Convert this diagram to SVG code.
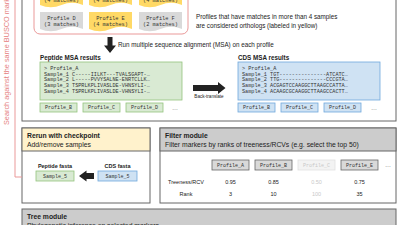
<svg xmlns="http://www.w3.org/2000/svg" width="400" height="225" viewBox="0 0 400 225">
<style>
.sans{font-family:"Liberation Sans",Arial,sans-serif;fill:#222}
.b{font-weight:bold}
.mono{font-family:"Liberation Mono","DejaVu Sans Mono",monospace;fill:#333}
.frame{fill:#fff;stroke:#666;stroke-width:1}
.docy{fill:#ffd966}
.docg{fill:#d9d9d9}
.gbox{fill:#d9ead3;stroke:#93c47d;stroke-width:0.8}
.bbox{fill:#cfe2f3;stroke:#6fa8dc;stroke-width:0.8}
.fbox{fill:#d9d9d9;stroke:#666;stroke-width:0.8}
.fade{fill:#f3f3f3;stroke:#e0e0e0;stroke-width:0.8}
.arrow{fill:#222}
.pl{font-size:5.3px;text-anchor:middle}
.sl{font-size:5px;text-anchor:middle}
.seq{font-size:5.2px}
.ft{font-size:6.8px}
.small{font-size:6.3px}
.mid{text-anchor:middle}
</style>
<rect width="400" height="225" fill="#fff"/>

<text class="sans" font-size="7.3" style="fill:#e58080" transform="translate(8.8,125) rotate(-90)">Search against the same BUSCO marker</text>

<g id="search-frame">
  <rect class="frame" x="22" y="-10" width="374" height="131"/>
</g>

<g id="profiles-group">
  <rect x="34" y="-10" width="154" height="44" rx="6" fill="#fff" stroke="#ea9999" stroke-width="1"/>
</g>
<g id="profile-a">
  <path class="docy" d="M40,-12 H83 V5 Q72.25,0.5 61.5,5 T40,5 Z"/>
  <text class="mono pl" x="61.5" y="-4">Profile A</text>
  <text class="mono pl" x="61.5" y="2.3">(4 matches)</text>
</g>
<g id="profile-b">
  <path class="docy" d="M89,-12 H132 V5 Q121.25,0.5 110.5,5 T89,5 Z"/>
  <text class="mono pl" x="110.5" y="-4">Profile B</text>
  <text class="mono pl" x="110.5" y="2.3">(4 matches)</text>
</g>
<g id="profile-c">
  <path class="docy" d="M139,-12 H182 V5 Q171.25,0.5 160.5,5 T139,5 Z"/>
  <text class="mono pl" x="160.5" y="-4">Profile C</text>
  <text class="mono pl" x="160.5" y="2.3">(4 matches)</text>
</g>
<g id="profile-d">
  <path class="docg" d="M40,12 H83 V29 Q72.25,24.5 61.5,29 T40,29 Z"/>
  <text class="mono pl" x="61.5" y="20">Profile D</text>
  <text class="mono pl" x="61.5" y="26.3">(3 matches)</text>
</g>
<g id="profile-e">
  <path class="docy" d="M89,12 H132 V29 Q121.25,24.5 110.5,29 T89,29 Z"/>
  <text class="mono pl" x="110.5" y="20">Profile E</text>
  <text class="mono pl" x="110.5" y="26.3">(4 matches)</text>
</g>
<g id="profile-f">
  <path class="docg" d="M139,12 H182 V29 Q171.25,24.5 160.5,29 T139,29 Z"/>
  <text class="mono pl" x="160.5" y="20">Profile F</text>
  <text class="mono pl" x="160.5" y="26.3">(2 matches)</text>
</g>

<text class="sans small" x="196" y="19">Profiles that have matches in more than 4 samples</text>
<text class="sans small" x="196" y="28">are considered orthologs (labeled in yellow)</text>
<text class="sans small" x="118" y="47.2">Run multiple sequence alignment (MSA) on each profile</text>

<g id="peptide-msa">
  <text class="sans b small" x="40" y="59.5">Peptide MSA results</text>
  <rect class="gbox" x="40" y="62" width="142" height="38"/>
  <text class="mono seq" x="44" y="69.8">&gt; Profile_A</text>
  <text class="mono seq" x="44" y="75.5">Sample_1 C-----IILKT---TVALSGAPT-…</text>
  <text class="mono seq" x="44" y="81.2">Sample_2 L-----PVVYSALNE-ENRTCLLK…</text>
  <text class="mono seq" x="44" y="86.9">Sample_3 TSPRLKPLIVASLDE-VHNSYLI-…</text>
  <text class="mono seq" x="44" y="92.6">Sample_4 TSPRLKPLIVASLDE-VHNSYLI-…</text>
  <rect class="gbox" x="40" y="103" width="37" height="9"/>
  <text class="mono sl" x="58.5" y="109.4">Profile_B</text>
  <rect class="gbox" x="83" y="103" width="37" height="9"/>
  <text class="mono sl" x="101.5" y="109.4">Profile_C</text>
  <rect class="gbox" x="126" y="103" width="37" height="9"/>
  <text class="mono sl" x="144.5" y="109.4">Profile_D</text>
  <text class="sans mid" font-size="6" x="175" y="109.5">…</text>
</g>

<text class="sans mid" font-size="4.6" x="209" y="98">Back-translate</text>

<g id="cds-msa">
  <text class="sans b small" x="238" y="59.5">CDS MSA results</text>
  <rect class="bbox" x="238" y="62" width="142" height="38"/>
  <text class="mono seq" x="242" y="69.8">&gt; Profile_A</text>
  <text class="mono seq" x="242" y="75.5">Sample_1 TGT---------------ATCATC…</text>
  <text class="mono seq" x="242" y="81.2">Sample_2 TTG---------------CCCGTA…</text>
  <text class="mono seq" x="242" y="86.9">Sample_3 ACGAGTCCAAGGCTTAAGCCATTA…</text>
  <text class="mono seq" x="242" y="92.6">Sample_4 ACAAGCGCAAGGCTTAAGCCACTT…</text>
  <rect class="bbox" x="238" y="103" width="37" height="9"/>
  <text class="mono sl" x="256.5" y="109.4">Profile_B</text>
  <rect class="bbox" x="281" y="103" width="37" height="9"/>
  <text class="mono sl" x="299.5" y="109.4">Profile_C</text>
  <rect class="bbox" x="324" y="103" width="37" height="9"/>
  <text class="mono sl" x="342.5" y="109.4">Profile_D</text>
  <text class="sans mid" font-size="6" x="374" y="109.5">…</text>
</g>

<g id="rerun">
  <rect class="frame" x="22" y="128" width="128" height="75"/>
  <rect x="22" y="128" width="128" height="23" fill="#fff2cc" stroke="#666" stroke-width="1"/>
  <text class="sans b ft" x="27" y="138">Rerun with checkpoint</text>
  <text class="sans ft" x="27" y="147">Add/remove samples</text>
  <text class="sans b mid" font-size="5.5" x="55" y="167.5">Peptide fasta</text>
  <rect class="gbox" x="36" y="171" width="38" height="10"/>
  <text class="mono sl" x="55" y="177.7">Sample_5</text>
  <text class="sans b mid" font-size="5.5" x="117.5" y="167.5">CDS fasta</text>
  <rect class="bbox" x="98" y="171" width="39" height="10"/>
  <text class="mono sl" x="117.5" y="177.7">Sample_5</text>
</g>

<g id="filter">
  <rect class="frame" x="160" y="128" width="236" height="75"/>
  <rect x="160" y="128" width="236" height="23" fill="#cccccc" stroke="#666" stroke-width="1"/>
  <text class="sans b ft" x="165" y="138">Filter module</text>
  <text class="sans ft" x="165" y="147">Filter markers by ranks of treeness/RCVs (e.g. select the top 50)</text>
  <rect class="fbox" x="212" y="160" width="37" height="10"/>
  <text class="mono sl" x="230.5" y="166.8">Profile_A</text>
  <rect class="fbox" x="255" y="160" width="37" height="10"/>
  <text class="mono sl" x="273.5" y="166.8">Profile_B</text>
  <rect class="fade" x="298" y="160" width="37" height="10"/>
  <text class="mono sl" x="316.5" y="166.8" style="fill:#c8c8c8">Profile_C</text>
  <rect class="fbox" x="341" y="160" width="37" height="10"/>
  <text class="mono sl" x="359.5" y="166.8">Profile_E</text>
  <text class="sans mid" font-size="6" x="388" y="167">…</text>
  <text class="sans mid" font-size="5.5" x="186" y="184">Treeness/RCV</text>
  <text class="sans mid" font-size="5.5" x="230.5" y="184">0.95</text>
  <text class="sans mid" font-size="5.5" x="273.5" y="184">0.85</text>
  <text class="sans mid" font-size="5.5" x="316.5" y="184" style="fill:#c8c8c8">0.50</text>
  <text class="sans mid" font-size="5.5" x="359.5" y="184">0.75</text>
  <text class="sans mid" font-size="5.5" x="186" y="196">Rank</text>
  <text class="sans mid" font-size="5.5" x="230.5" y="196">3</text>
  <text class="sans mid" font-size="5.5" x="273.5" y="196">10</text>
  <text class="sans mid" font-size="5.5" x="316.5" y="196" style="fill:#c8c8c8">100</text>
  <text class="sans mid" font-size="5.5" x="359.5" y="196">35</text>
</g>

<g id="tree">
  <rect x="22" y="209" width="374" height="30" fill="#cccccc" stroke="#666" stroke-width="1"/>
  <text class="sans b ft" x="27" y="219">Tree module</text>
  <text class="sans ft" x="27" y="228">Phylogenetic inference on selected markers</text>
</g>

<g id="connectors">
  <polyline points="15,-2 15,177 22,177" fill="none" stroke="#ea9999" stroke-width="1"/>
  <polygon class="arrow" points="107.5,37 112.5,37 112.5,45.5 116,45.5 110,53 104,45.5 107.5,45.5"/>
  <polygon class="arrow" points="193,85 218,85 218,82 225.5,88 218,94 218,91 193,91"/>
  <polygon class="arrow" points="94,173 86.5,173 86.5,170.5 79,176 86.5,181.5 86.5,179 94,179"/>
</g>
</svg>
